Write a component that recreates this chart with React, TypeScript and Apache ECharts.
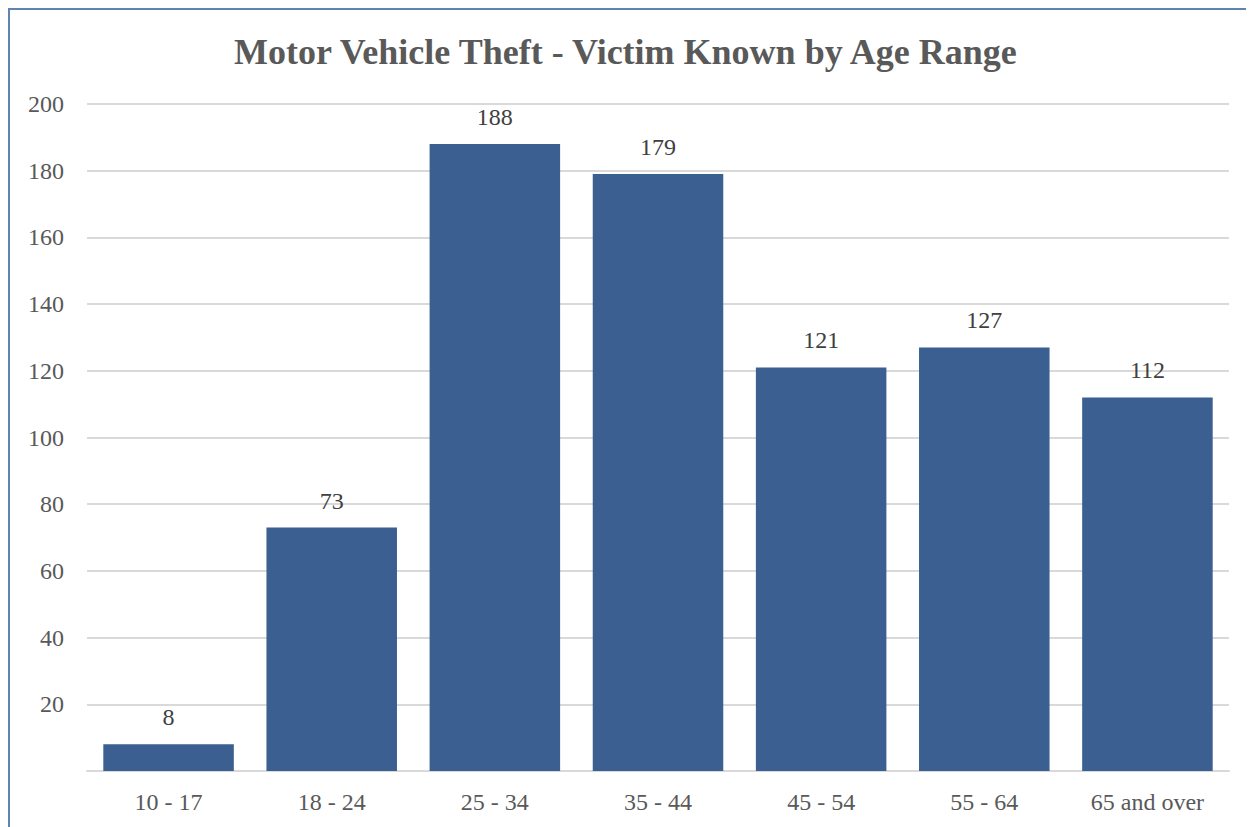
import React, { useEffect, useRef } from "react";
import * as echarts from "echarts";

const categories = ["10 - 17", "18 - 24", "25 - 34", "35 - 44", "45 - 54", "55 - 64", "65 and over"];
const values = [8, 73, 188, 179, 121, 127, 112];
const titleText = "Motor Vehicle Theft - Victim Known by Age Range";

export default function App() {
  const ref = useRef<HTMLDivElement>(null);
  useEffect(() => {
    const chart = echarts.init(ref.current!, null, { renderer: "svg" });
    chart.setOption({
      animation: false,
      backgroundColor: "#ffffff",
      title: {
        text: titleText,
        left: 219,
        top: 19,
        textStyle: {
          fontFamily: "Liberation Serif",
          fontWeight: "bold",
          fontSize: 36,
          color: "#595959",
        },
      },
      grid: { left: 77, right: 25, top: 94, bottom: 56 },
      xAxis: {
        type: "category",
        data: categories,
        axisLine: { lineStyle: { color: "#d9d9d9", width: 2 } },
        axisTick: { show: false },
        axisLabel: {
          fontFamily: "Liberation Serif",
          fontSize: 24,
          color: "#595959",
          margin: 19,
        },
      },
      yAxis: {
        type: "value",
        min: 0,
        max: 200,
        interval: 20,
        axisLine: { show: false },
        axisTick: { show: false },
        splitLine: { lineStyle: { color: "#d9d9d9", width: 2 } },
        axisLabel: {
          fontFamily: "Liberation Serif",
          fontSize: 24,
          color: "#595959",
          margin: 23,
          formatter: (v: number) => (v === 0 ? "" : String(v)),
        },
      },
      series: [
        {
          type: "bar",
          data: values,
          barCategoryGap: "20%",
          itemStyle: { color: "#3a5f90" },
          label: {
            show: true,
            position: "top",
            distance: 15,
            fontFamily: "Liberation Serif",
            fontSize: 24,
            color: "#404040",
          },
        },
      ],
    });
    return () => chart.dispose();
  }, []);
  return (
    <div
      style={{
        width: 1246,
        height: 819,
        boxSizing: "border-box",
        borderTop: "2px solid #5f84b0",
        borderLeft: "2px solid #5f84b0",
      }}
    >
      <div ref={ref} style={{ width: 1244, height: 817 }} />
    </div>
  );
}
